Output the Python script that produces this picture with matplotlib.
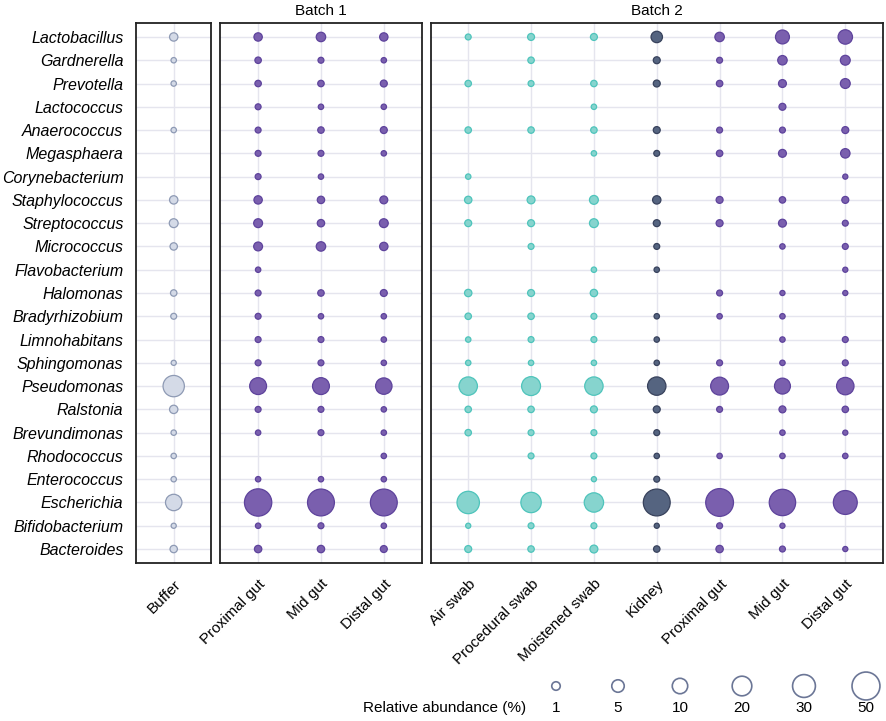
import numpy as np
from matplotlib import pyplot as plt

plt.rc('font', family=['Liberation Sans', 'DejaVu Sans'])

nan = np.nan

genera = ["Lactobacillus", "Gardnerella", "Prevotella", "Lactococcus", "Anaerococcus",
          "Megasphaera", "Corynebacterium", "Staphylococcus", "Streptococcus", "Micrococcus",
          "Flavobacterium", "Halomonas", "Bradyrhizobium", "Limnohabitans", "Sphingomonas",
          "Pseudomonas", "Ralstonia", "Brevundimonas", "Rhodococcus", "Enterococcus",
          "Escherichia", "Bifidobacterium", "Bacteroides"]

# relative abundance (%) per sample, rows in genera order
buffer = [1.3, 0.05, 0.05, nan, 0.05, nan, nan, 1.3, 1.7, 0.7, nan,
          0.3, 0.15, nan, 0.02, 27, 1.3, 0.05, 0.05, 0.05, 13.4, 0.02, 0.7]

b1_proximal = [1.3, 0.3, 0.3, 0.15, 0.15, 0.15, 0.15, 1.3, 1.7, 1.7, 0.05,
               0.15, 0.15, 0.15, 0.15, 14.5, 0.15, 0.05, nan, 0.05, 50, 0.05, 0.7]
b1_mid = [2.2, 0.15, 0.3, 0.05, 0.3, 0.15, 0.05, 0.7, 0.7, 2.2, nan,
          0.3, 0.05, 0.15, 0.15, 14.5, 0.15, 0.15, nan, 0.05, 48, 0.15, 0.7]
b1_distal = [1.3, 0.05, 0.5, 0.05, 0.5, 0.05, nan, 1.0, 1.7, 1.3, nan,
             0.5, 0.05, 0.05, 0.05, 13.4, 0.05, 0.05, 0.05, 0.05, 48, 0.05, 0.5]

b2_air = [0.15, nan, 0.3, nan, 0.3, nan, 0.05, 0.7, 0.5, nan, nan,
          0.7, 0.3, 0.05, 0.05, 18.3, 0.3, 0.3, nan, nan, 30.6, 0.02, 0.5]
b2_procedural = [0.5, 0.3, 0.15, nan, 0.3, nan, nan, 1.0, 0.5, 0.15, nan,
                 0.5, 0.3, 0.15, 0.05, 19.7, 0.3, 0.15, 0.15, nan, 24, 0.15, 0.3]
b2_moistened = [0.5, nan, 0.3, 0.05, 0.3, 0.05, nan, 1.7, 1.7, nan, 0.05,
                0.7, 0.15, 0.15, 0.05, 18.3, 0.5, 0.15, 0.15, 0.02, 21, 0.15, 1.0]
b2_kidney = [4.4, 0.5, 0.5, nan, 0.5, 0.15, nan, 1.3, 0.5, 0.15, 0.05,
             nan, 0.05, 0.05, 0.05, 18.3, 0.5, 0.15, 0.05, 0.15, 48, 0.02, 0.3]
b2_proximal = [2.2, 0.15, 0.3, nan, 0.15, 0.3, nan, 0.5, 0.5, nan, nan,
               0.15, 0.05, nan, 0.15, 17, 0.15, nan, 0.05, nan, 52, 0.15, 0.7]
b2_mid = [8.3, 2.2, 1.0, 0.5, 0.15, 1.0, nan, 0.3, 1.0, 0.05, nan,
          0.02, 0.05, 0.05, 0.05, 12.3, 0.5, 0.05, 0.05, nan, 46, 0.02, 0.15]
b2_distal = [9.2, 2.6, 2.6, nan, 0.5, 2.2, 0.02, 0.5, 0.15, 0.15, 0.02,
             0.02, nan, 0.15, 0.15, 15.8, 0.3, 0.02, 0.05, nan, 36, nan, 0.02]

panels = [
    ("", ["Buffer"], [buffer], ["buffer"]),
    ("Batch 1", ["Proximal gut", "Mid gut", "Distal gut"],
     [b1_proximal, b1_mid, b1_distal], ["gut", "gut", "gut"]),
    ("Batch 2", ["Air swab", "Procedural swab", "Moistened swab", "Kidney",
                 "Proximal gut", "Mid gut", "Distal gut"],
     [b2_air, b2_procedural, b2_moistened, b2_kidney, b2_proximal, b2_mid, b2_distal],
     ["swab", "swab", "swab", "kidney", "gut", "gut", "gut"]),
]

legend_values = [1, 5, 10, 20, 30, 50]

fills = {"buffer": "#D4DAE7", "gut": "#7A5FAE", "swab": "#86D4CE", "kidney": "#556480"}
edges = {"buffer": "#8E9AB4", "gut": "#5E439C", "swab": "#4EC4BB", "kidney": "#38425C"}
grid_col = "#E5E5EE"
fs = 11


def size(v):
    # diameter in px grows with sqrt of abundance
    d = 5.3 + 3.2 * np.sqrt(np.asarray(v, dtype=float)) - 0.6
    return (d * 0.72) ** 2


fig = plt.figure(figsize=(8.87, 7.21), dpi=100)
gs = fig.add_gridspec(1, 3, width_ratios=[1.2, 3.2, 7.2], left=136/887, right=883/887,
                      top=1-23/721, bottom=1-563/721, wspace=0.037)

ny = len(genera)
yy = np.arange(ny)
for k, (title, samples, cols, kinds) in enumerate(panels):
    ax = fig.add_subplot(gs[0, k])
    n = len(samples)
    for i in range(n):
        ax.axvline(i, color=grid_col, lw=1, zorder=0)
    for j in yy:
        ax.axhline(j, color=grid_col, lw=1, zorder=0)
    for i, (vals, kind) in enumerate(zip(cols, kinds)):
        v = np.array(vals, dtype=float)
        m = ~np.isnan(v)
        ax.scatter(np.full(m.sum(), i), yy[m], s=size(v[m]), c=fills[kind],
                   edgecolors=edges[kind], linewidths=0.9, zorder=3)
    ax.set_xlim(-0.6, n - 0.4)
    ax.set_ylim(ny - 0.4, -0.6)
    ax.set_xticks(range(n))
    ax.set_xticklabels(samples, rotation=45, ha='right', va='top',
                       rotation_mode='anchor', fontsize=fs)
    ax.tick_params(length=0, pad=10)
    if k == 0:
        ax.set_yticks(yy)
        ax.set_yticklabels(genera, style='italic', fontsize=11.5)
        ax.tick_params(axis='y', pad=9)
    else:
        ax.set_yticks([])
    for sp in ax.spines.values():
        sp.set_linewidth(1.3)
        sp.set_color('#222222')
    if title:
        ax.set_title(title, fontsize=fs, pad=6)

# size legend
lax = fig.add_axes([525/887, 0, 362/887, 51/721])
lax.set_xlim(-0.5, 5.339)
lax.set_ylim(0, 1)
lax.axis('off')
lx = np.arange(len(legend_values))
d_leg = 5.3 + 3.2 * np.sqrt(np.array(legend_values, dtype=float))
lax.scatter(lx, np.full(len(lx), 0.686), s=(d_leg * 0.72) ** 2, facecolors='none',
            edgecolors='#6B7696', linewidths=1.2, clip_on=False)
for x, v in zip(lx, legend_values):
    lax.text(x, 0.255, str(v), ha='center', va='center', fontsize=fs)
fig.text(363/887, 1-708/721, "Relative abundance (%)", ha='left', va='center', fontsize=fs)

fig.savefig("out.png", dpi=100)
